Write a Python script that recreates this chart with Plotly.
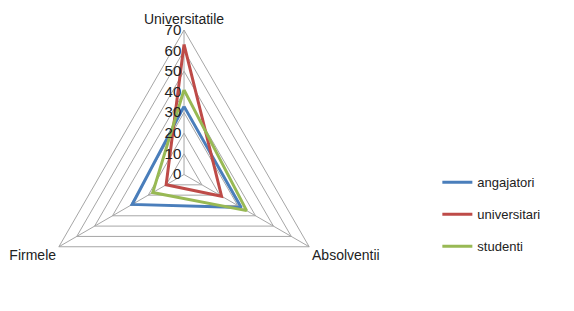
import plotly.graph_objects as go

categories = ["Universitatile", "Absolventii", "Firmele"]
angajatori = [33, 32, 29]
universitari = [63, 21, 10]
studenti = [41, 35, 17.5]
radial_ticks = [0, 10, 20, 30, 40, 50, 60, 70]

series = [
    ("angajatori", angajatori, "#4A7EBB"),
    ("universitari", universitari, "#BE4B48"),
    ("studenti", studenti, "#98B954"),
]

FONT = "Liberation Sans Narrow, Liberation Sans, Arial"

fig = go.Figure()
for i, (name, vals, color) in enumerate(series):
    fig.add_trace(go.Scatterpolar(
        r=vals + vals[:1],
        theta=categories + categories[:1],
        mode="lines",
        name=name,
        legendgroup=name,
        line=dict(color=color, width=3),
    ))

fig.update_layout(
    width=574, height=311,
    margin=dict(l=0, r=0, t=22, b=0),
    paper_bgcolor="white",
    plot_bgcolor="white",
    font=dict(family=FONT, size=14, color="#222"),
    polar=dict(
        domain=dict(x=[0.0549, 0.5584], y=[0, 1]),
        bgcolor="white",
        gridshape="linear",
        radialaxis=dict(
            range=[0, 70],
            tickvals=radial_ticks,
            angle=90,
            tickangle=90,
            side="counterclockwise",
            showline=False,
            ticks="",
            gridcolor="#A6A6A6",
            gridwidth=1,
            tickfont=dict(family=FONT, size=15, color="#222"),
        ),
        angularaxis=dict(
            rotation=90,
            direction="clockwise",
            showgrid=True,
            gridcolor="#A6A6A6",
            linecolor="#A6A6A6",
            linewidth=1,
            ticks="",
            tickfont=dict(family=FONT, size=14, color="#222"),
        ),
    ),
    showlegend=True,
    legend=dict(
        x=0.748, y=0.362, xanchor="left", yanchor="middle",
        tracegroupgap=12,
        font=dict(family=FONT, size=13, color="#222"),
        bgcolor="rgba(0,0,0,0)",
    ),
)

fig.write_html("out.html")
